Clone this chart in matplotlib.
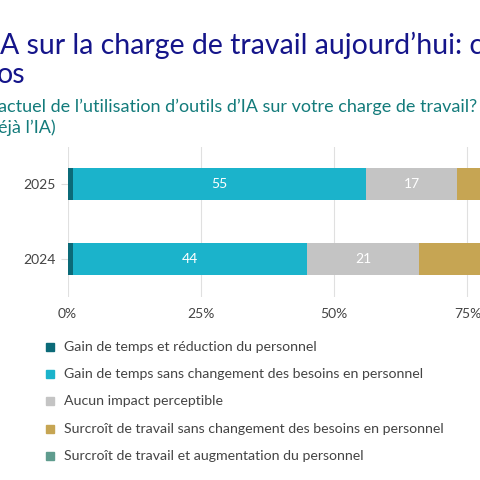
import matplotlib.pyplot as plt
import matplotlib.ticker as mticker

plt.rcParams['font.family'] = ['Lato', 'DejaVu Sans']

years = ["2024", "2025"]
series_names = [
    "Gain de temps et réduction du personnel",
    "Gain de temps sans changement des besoins en personnel",
    "Aucun impact perceptible",
    "Surcroît de travail sans changement des besoins en personnel",
    "Surcroît de travail et augmentation du personnel",
]
values = [
    [1, 1],
    [44, 55],
    [21, 17],
    [31, 24],
    [3, 3],
]
colors = ["#0b6a78", "#1bb3cb", "#c4c4c4", "#c6a553", "#5f9c8e"]

W = H = 480
fig = plt.figure(figsize=(4.8, 4.8), dpi=100)
ax = fig.add_axes([67.5 / W, 1 - 296.5 / H, 533.3 / W, 150 / H])

left = [0, 0]
for name, vals, col in zip(series_names, values, colors):
    bars = ax.barh(range(len(years)), vals, left=left, height=0.43, color=col, zorder=3)
    if name in series_names[1:3]:
        ax.bar_label(bars, labels=[str(v) for v in vals], label_type="center",
                     color="white", fontsize=10)
    left = [l + v for l, v in zip(left, vals)]

ax.set_xlim(0, 100)
ax.set_ylim(-0.5, 1.5)
ax.set_yticks(range(len(years)), years)
ax.xaxis.set_major_locator(mticker.MultipleLocator(25))
ax.xaxis.set_major_formatter(mticker.FuncFormatter(lambda v, p: f"{v:.0f}%"))
ax.grid(axis="x", color="#e0e0e0", linewidth=0.8, zorder=0)
for s in ax.spines.values():
    s.set_visible(False)
ax.tick_params(axis="x", length=0, labelsize=10, labelcolor="#444444", pad=8)
ax.tick_params(axis="y", length=5, color="#dddddd", labelsize=10, labelcolor="#444444")

fig.text(0 / W, 1 - 45 / H, "A sur la charge de travail aujourd’hui: constats",
         fontsize=20.5, color="#15158a", va="center")
fig.text(-3 / W, 1 - 75 / H, "os", fontsize=20.5, color="#15158a", va="center")
fig.text(-2 / W, 1 - 107 / H, "actuel de l’utilisation d’outils d’IA sur votre charge de travail?",
         fontsize=13, color="#137b7b", va="center")
fig.text(-2 / W, 1 - 128 / H, "éjà l’IA)", fontsize=13, color="#137b7b", va="center")

for i, (name, col) in enumerate(zip(series_names, colors)):
    y = 1 - (347 + i * 27.2) / H
    fig.patches.append(plt.Rectangle((46 / W, y - 4 / H), 8 / W, 8 / H,
                                     transform=fig.transFigure, color=col, figure=fig))
    fig.text(64 / W, y, name, fontsize=10.2, color="#444444", va="center")

fig.savefig("out.png", dpi=100)
